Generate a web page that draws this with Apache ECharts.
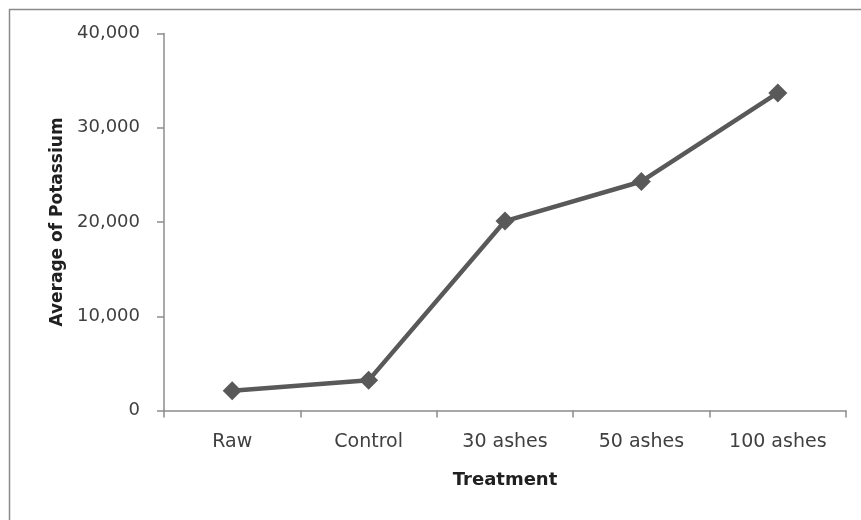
<!DOCTYPE html>
<html>
<head>
<meta charset="utf-8">
<script src="https://cdn.jsdelivr.net/npm/echarts@6/dist/echarts.min.js"></script>
<style>
  html, body { margin: 0; padding: 0; background: #ffffff; }
  #chart { width: 861px; height: 520px; }
</style>
</head>
<body>
<div id="chart"></div>
<script>
// Treatments along the x axis
const treatments = ['Raw', 'Control', '30 ashes', '50 ashes', '100 ashes'];
// Average potassium per treatment
const potassium = [2100, 3200, 20100, 24300, 33700];
// Value axis range
const yMin = 0;
const yMax = 40000;
const yStep = 10000;

const chart = echarts.init(document.getElementById('chart'), null, { renderer: 'canvas' });

const axisGray = '#8c8c8c';
const textColor = '#404040';
const font = 'DejaVu Sans, Verdana, sans-serif';

chart.setOption({
  backgroundColor: '#ffffff',
  animation: false,
  graphic: [{
    type: 'rect',
    shape: { x: 9.5, y: 9.5, width: 1000, height: 700 },
    style: { fill: 'none', stroke: '#8a8a8a', lineWidth: 1.5 },
    silent: true
  }],
  grid: { left: 164, right: 15, top: 33.5, bottom: 109.5 },
  xAxis: {
    type: 'category',
    data: treatments,
    boundaryGap: true,
    name: 'Treatment',
    nameLocation: 'middle',
    nameGap: 61,
    nameTextStyle: { fontFamily: font, fontWeight: 'bold', fontSize: 18, color: '#202020' },
    axisLine: { lineStyle: { color: axisGray, width: 1.5 } },
    axisTick: { show: true, length: 7, alignWithLabel: false, lineStyle: { color: axisGray, width: 1.5 } },
    axisLabel: { fontFamily: font, fontSize: 19, color: textColor, margin: 22 },
    splitLine: { show: false }
  },
  yAxis: {
    type: 'value',
    min: yMin,
    max: yMax,
    interval: yStep,
    name: 'Average of Potassium',
    nameLocation: 'middle',
    nameGap: 95,
    nameRotate: 90,
    nameTextStyle: { fontFamily: font, fontWeight: 'bold', fontSize: 17, color: '#202020' },
    axisLine: { show: true, lineStyle: { color: axisGray, width: 1.5 } },
    axisTick: { show: true, length: 7, inside: false, lineStyle: { color: axisGray, width: 1.5 } },
    axisLabel: {
      fontFamily: font, fontSize: 18, color: textColor, margin: 24,
      formatter: v => v.toLocaleString('en-US')
    },
    splitLine: { show: false }
  },
  series: [{
    type: 'line',
    data: potassium,
    symbol: 'diamond',
    symbolSize: 19,
    lineStyle: { color: '#595959', width: 4.5 },
    itemStyle: { color: '#595959' },
    z: 3
  }]
});
</script>
</body>
</html>
